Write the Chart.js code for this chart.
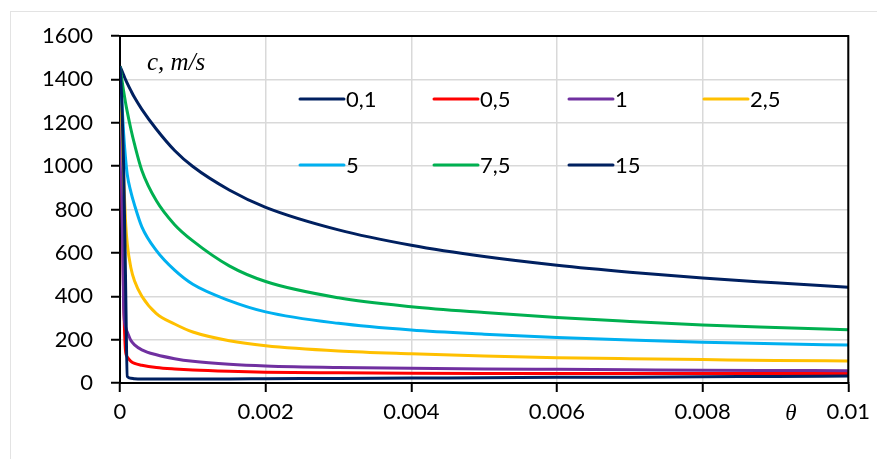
<!DOCTYPE html>
<html>
<head>
<meta charset="utf-8">
<script src="https://cdn.jsdelivr.net/npm/chart.js@4.4.0/dist/chart.umd.min.js"></script>
<style>
    html, body { margin: 0; padding: 0; background: #fff; }
    #wrap { position: relative; width: 877px; height: 459px; overflow: hidden; }
    #frame { position: absolute; left: 10px; top: 11px; width: 900px; height: 500px; border: 1px solid #e3e3e3; }
    #chart { position: absolute; left: 0; top: 0; }
</style>
</head>
<body>
<div id="wrap">
    <div id="frame"></div>
    <canvas id="chart" width="877" height="459"></canvas>
</div>
<script>
// Valores de theta (eixo x)
const thetaValues = [0, 0.000025, 0.00005, 0.000075, 0.0001, 0.00015, 0.0002, 0.0003, 0.0005, 0.00075,
    0.001, 0.0015, 0.002, 0.003, 0.004, 0.005, 0.006, 0.007, 0.008, 0.009, 0.01];

// Séries c, m/s
const series01 = [1460, 1440, 1420, 1400, 1382, 1348, 1316, 1262, 1170, 1072,
    998, 890, 810, 706, 635, 583, 543, 511, 484, 462, 441];
const series05 = [1460, 900, 400, 150, 120, 100, 90, 82, 72, 65,
    60, 54, 50, 47, 45, 44, 44, 44, 44, 44, 44];
const series1 = [1460, 900, 350, 260, 235, 196, 176, 153, 130, 112,
    100, 86, 78, 71, 68, 65, 63, 61, 59, 58, 57];
const series25 = [1460, 1200, 950, 750, 640, 530, 470, 400, 320, 272,
    235, 195, 172, 148, 135, 125, 117, 112, 108, 104, 102];
const series5 = [1460, 1300, 1150, 1040, 960, 880, 820, 720, 610, 520,
    455, 380, 328, 275, 244, 225, 210, 198, 188, 181, 175];
const series75 = [1460, 1400, 1345, 1295, 1250, 1170, 1100, 980, 840, 730,
    655, 540, 468, 393, 352, 325, 302, 284, 268, 256, 245];
const series15 = [1460, 1300, 1000, 500, 30, 22, 20, 19, 19, 19,
    19, 19, 20, 21, 23, 24, 26, 27, 29, 30, 32];

const seriesLabels = ['0,1', '0,5', '1', '2,5', '5', '7,5', '15'];
const seriesValues = [series01, series05, series1, series25, series5, series75, series15];
const seriesColors = ['#002060', '#ff0000', '#7030a0', '#ffc000', '#00b0f0', '#00b050', '#002060'];

const xTickLabels = ['0', '0.002', '0.004', '0.006', '0.008', '0.01'];
const yTickLabels = ['0', '200', '400', '600', '800', '1000', '1200', '1400', '1600'];

const FONT = 'Lato, "Open Sans", sans-serif';

// Posições da legenda (dentro da área do gráfico)
const legendCols = [300, 434, 569, 704];
const legendRows = [99, 165];

const extrasPlugin = {
    id: 'extras',
    afterDraw(chart) {
        const ctx = chart.ctx;
        const a = chart.chartArea;
        ctx.save();
        // moldura superior e direita
        ctx.strokeStyle = '#000';
        ctx.lineWidth = 2;
        ctx.beginPath();
        ctx.moveTo(a.left, a.top);
        ctx.lineTo(a.right, a.top);
        ctx.lineTo(a.right, a.bottom);
        ctx.stroke();

        // legenda
        ctx.font = '22px ' + FONT;
        ctx.textBaseline = 'middle';
        ctx.textAlign = 'left';
        chart.data.datasets.forEach((ds, i) => {
            const x = legendCols[i % 4];
            const y = legendRows[Math.floor(i / 4)];
            ctx.strokeStyle = ds.borderColor;
            ctx.lineWidth = 3;
            ctx.lineCap = 'round';
            ctx.beginPath();
            ctx.moveTo(x, y);
            ctx.lineTo(x + 44, y);
            ctx.stroke();
            ctx.fillStyle = '#000';
            ctx.fillText(ds.label, x + 46, y + 1);
        });

        // títulos dos eixos
        ctx.fillStyle = '#000';
        ctx.textBaseline = 'alphabetic';
        ctx.font = 'italic 25px "Liberation Serif", serif';
        ctx.fillText('c, m/s', 147, 70);
        ctx.textAlign = 'center';
        ctx.font = 'italic 23px "Liberation Serif", serif';
        ctx.fillText('\u03b8', 791, 420);
        ctx.restore();
    }
};

new Chart(document.getElementById('chart'), {
    type: 'scatter',
    data: {
        datasets: seriesValues.map((vals, i) => ({
            label: seriesLabels[i],
            data: thetaValues.map((x, j) => ({ x: x, y: vals[j] })),
            showLine: true,
            borderColor: seriesColors[i],
            backgroundColor: seriesColors[i],
            borderWidth: 3,
            pointRadius: 0,
            cubicInterpolationMode: 'monotone',
            order: seriesValues.length - i
        }))
    },
    options: {
        responsive: false,
        animation: false,
        layout: { padding: { left: 0, right: 25, top: 36, bottom: 0 } },
        plugins: {
            legend: { display: false },
            tooltip: { enabled: false }
        },
        scales: {
            x: {
                type: 'linear',
                min: 0,
                max: 0.01,
                afterFit(scale) { scale.height = 76; },
                afterBuildTicks(scale) {
                    scale.ticks = xTickLabels.map((t, i) => ({ value: i * 0.002 }));
                },
                ticks: {
                    callback: (value, index) => xTickLabels[index],
                    font: { family: FONT, size: 22 },
                    color: '#000',
                    padding: 7,
                    maxRotation: 0
                },
                grid: { color: '#d9d9d9', lineWidth: 1.5, tickColor: '#000', tickLength: 9, tickWidth: 2 },
                border: { color: '#000', width: 2 }
            },
            y: {
                min: 0,
                max: 1600,
                afterFit(scale) { scale.width = 120; },
                afterBuildTicks(scale) {
                    scale.ticks = yTickLabels.map((t, i) => ({ value: i * 200 }));
                },
                ticks: {
                    callback: (value, index) => yTickLabels[index],
                    font: { family: FONT, size: 22 },
                    color: '#000',
                    padding: 18
                },
                grid: { color: '#d9d9d9', lineWidth: 1.5, tickColor: '#000', tickLength: 9, tickWidth: 2 },
                border: { color: '#000', width: 2 }
            }
        }
    },
    plugins: [extrasPlugin]
});
</script>
</body>
</html>
